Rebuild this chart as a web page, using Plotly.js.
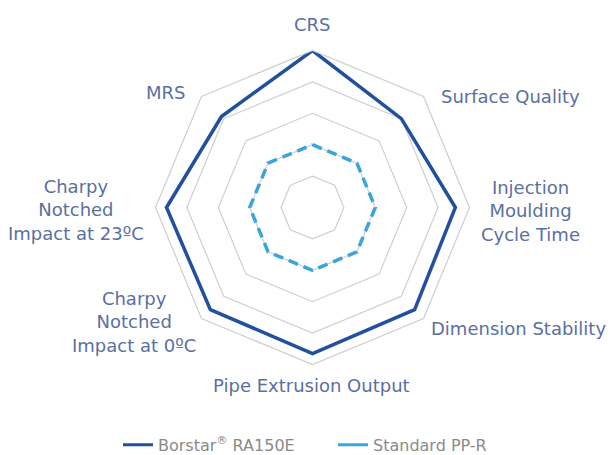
<!DOCTYPE html>
<html>
<head>
<meta charset="utf-8">
<script src="https://cdn.plot.ly/plotly-3.0.1.min.js"></script>
<style>html,body{margin:0;padding:0;background:#fff;}#chart{width:610px;height:455px;}</style>
</head>
<body>
<div id="chart"></div>
<script>
const categories = [
  "CRS",
  "Surface Quality",
  "Injection<br>Moulding<br>Cycle Time",
  "Dimension Stability",
  "Pipe Extrusion Output",
  "Charpy<br>Notched<br>Impact at 0ºC",
  "Charpy<br>Notched<br>Impact at 23ºC",
  "MRS"
];
const borstarValues = [5, 4, 4.55, 4.6, 4.65, 4.6, 4.65, 4.1];
const standardValues = [2, 2, 2, 2, 2, 2, 2, 2];
const ringValues = [1, 2, 3, 4, 5];
const seriesNames = ["Borstar<sup>®</sup> RA150E", "Standard PP-R"];
const seriesColors = ["#21509e", "#3ba4dd"];

const W = 610, H = 455;
const close = a => a.concat([a[0]]);

const traces = [
  {
    type: "scatterpolar", mode: "lines", name: seriesNames[0], showlegend: false,
    r: close(borstarValues), theta: close(categories),
    line: {color: seriesColors[0], width: 3.5}
  },
  {
    type: "scatterpolar", mode: "lines", name: seriesNames[1], showlegend: false,
    r: close(standardValues), theta: close(categories),
    line: {color: seriesColors[1], width: 3.5, dash: "10px,6px"}
  },
  // legend entries (solid line samples as in the reference)
  {type: "scatterpolar", mode: "lines", name: seriesNames[0], r: [null], theta: [categories[0]],
   line: {color: seriesColors[0], width: 3}},
  {type: "scatterpolar", mode: "lines", name: seriesNames[1], r: [null], theta: [categories[0]],
   line: {color: seriesColors[1], width: 3}}
];

// label placement (pixel centres) around the octagon
const labelPlacement = [
  {x: 312, y: 24, xa: "center"},
  {x: 510, y: 96, xa: "center"},
  {x: 530, y: 211, xa: "center"},
  {x: 608, y: 328, xa: "right"},
  {x: 311.5, y: 385, xa: "center"},
  {x: 134, y: 322, xa: "center"},
  {x: 76, y: 210, xa: "center"},
  {x: 165, y: 93, xa: "center"}
];
const annotations = categories.map((c, i) => ({
  text: c, xref: "paper", yref: "paper",
  x: labelPlacement[i].x / W, y: 1 - labelPlacement[i].y / H,
  xanchor: labelPlacement[i].xa, yanchor: "middle", align: "center",
  showarrow: false,
  font: {family: "DejaVu Sans", size: 18, color: "#5a6fa3"}
}));

const layout = {
  width: W, height: H,
  margin: {l: 0, r: 0, t: 0, b: 0, autoexpand: false},
  paper_bgcolor: "#fff",
  font: {family: "DejaVu Sans", size: 18, color: "#5a6fa3"},
  showlegend: true,
  legend: {
    orientation: "h", x: 333 / W, xanchor: "center", y: -0.015, yanchor: "bottom",
    font: {family: "DejaVu Sans", size: 16, color: "#8a8a8a"},
    itemwidth: 30, bgcolor: "rgba(0,0,0,0)",
    entrywidth: 170, entrywidthmode: "pixels"
  },
  annotations: annotations,
  polar: {
    domain: {x: [0.2549, 0.7697], y: [0.1989, 0.889]},
    gridshape: "linear",
    bgcolor: "rgba(0,0,0,0)",
    radialaxis: {
      range: [0, 5], tickvals: ringValues, showticklabels: false, ticks: "",
      showline: false, gridcolor: "#cfcfcf", gridwidth: 1.2
    },
    angularaxis: {
      rotation: 90, direction: "clockwise", categoryorder: "array", categoryarray: categories,
      showgrid: false, ticks: "", showticklabels: false, showline: true,
      linecolor: "#cfcfcf", linewidth: 1.2
    }
  }
};

Plotly.newPlot("chart", traces, layout, {displayModeBar: false, staticPlot: true});
</script>
</body>
</html>
